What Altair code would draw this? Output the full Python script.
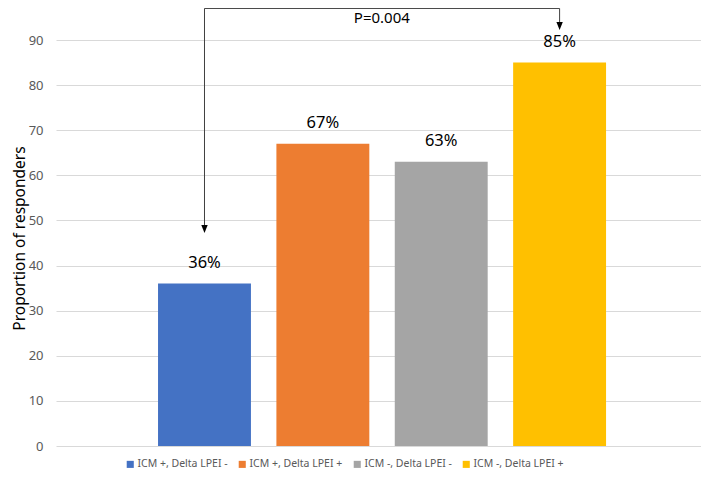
import altair as alt
import pandas as pd

categories = ["ICM +, Delta LPEI -", "ICM +, Delta LPEI +", "ICM -, Delta LPEI -", "ICM -, Delta LPEI +"]
values = [36, 67, 63, 85]
labels = ["36%", "67%", "63%", "85%"]
colors = ["#4472C4", "#ED7D31", "#A5A5A5", "#FFC000"]
y_ticks = [0, 10, 20, 30, 40, 50, 60, 70, 80, 90]

p_label = "P=0.004"
bracket_top = 97.0
left_tip = 48.1
right_tip = 93.1

FONT = "Noto Sans"

df = pd.DataFrame({"cat": categories, "val": values, "lab": labels})

xscale = alt.Scale(domain=categories, paddingInner=0.215, paddingOuter=0.832, align=0.518)
yscale = alt.Scale(domain=[0, 97.1], nice=False, zero=True)

base = alt.Chart(df)

bars = base.mark_bar().encode(
    x=alt.X("cat:N", scale=xscale, axis=None, sort=categories),
    y=alt.Y("val:Q", scale=yscale,
            axis=alt.Axis(values=y_ticks, title="Proportion of responders", domain=False, ticks=False,
                          grid=True, gridColor="#D9D9D9", labelColor="#595959", labelFontSize=13,
                          labelFont=FONT, labelPadding=13, titleFont=FONT, titleFontSize=15.5,
                          titleFontWeight="normal", titleColor="#000000", titleX=-37, titleY=230,
                          titleAngle=-90, titleBaseline="middle", titleAlign="center")),
    color=alt.Color("cat:N", scale=alt.Scale(domain=categories, range=colors),
                    legend=alt.Legend(orient="none", legendX=69, legendY=451, direction="horizontal",
                                      title=None, symbolType="square", symbolSize=50,
                                      symbolStrokeWidth=0, labelFont=FONT, labelFontSize=10.5,
                                      labelColor="#595959", columnPadding=9, labelOffset=2)),
)

texts = base.mark_text(font=FONT, fontSize=16.5, color="#000000", baseline="middle", dy=-21).encode(
    x=alt.X("cat:N", scale=xscale, sort=categories),
    y=alt.Y("val:Q", scale=yscale),
    text="lab:N",
)

hdf = pd.DataFrame({"x1": [categories[0]], "x2": [categories[3]], "y": [bracket_top]})
hline = alt.Chart(hdf).mark_rule(color="#404040", strokeWidth=1).encode(
    x=alt.X("x1:N", scale=xscale), x2="x2:N", y=alt.Y("y:Q", scale=yscale)
)

vdf = pd.DataFrame({"x": [categories[0], categories[3]], "y": [bracket_top, bracket_top],
                    "y2": [left_tip + 0.9, right_tip + 0.9]})
vlines = alt.Chart(vdf).mark_rule(color="#404040", strokeWidth=1).encode(
    x=alt.X("x:N", scale=xscale), y=alt.Y("y:Q", scale=yscale), y2="y2:Q"
)

adf = pd.DataFrame({"x": [categories[0], categories[3]], "y": [left_tip, right_tip]})
heads = alt.Chart(adf).mark_point(shape="M-0.8,-1L0.8,-1L0,1Z", filled=True, size=64,
                                  color="#000000", opacity=1).encode(
    x=alt.X("x:N", scale=xscale), y=alt.Y("y:Q", scale=yscale)
)

pdf = pd.DataFrame({"x": [categories[1]], "y": [94.9], "t": [p_label]})
ptext = alt.Chart(pdf).mark_text(font=FONT, fontSize=15, color="#000000", baseline="middle", dx=59).encode(
    x=alt.X("x:N", scale=xscale), y=alt.Y("y:Q", scale=yscale), text="t:N"
)

chart = alt.layer(bars, texts, hline, vlines, heads, ptext).properties(
    width=645, height=438,
    autosize=alt.AutoSizeParams(type="none"),
    padding={"left": 48, "top": 0, "right": 0, "bottom": 26},
    background="white",
).configure_view(stroke=None)

chart.save("out.html", embed_options={"renderer": "svg", "actions": False})
